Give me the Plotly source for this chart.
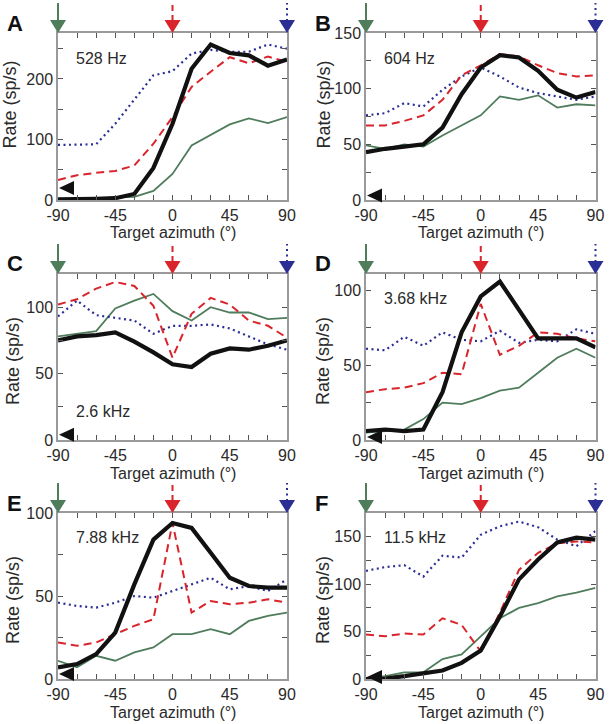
import plotly.graph_objects as go

# ---------------- data ----------------
azimuth = [-90, -75, -60, -45, -30, -15, 0, 15, 30, 45, 60, 75, 90]
x_tick_vals = [-90, -75, -60, -45, -30, -15, 0, 15, 30, 45, 60, 75, 90]
x_tick_text = ["-90", "", "", "-45", "", "", "0", "", "", "45", "", "", "90"]

panel_letters = ["A", "B", "C", "D", "E", "F"]
freq_labels = ["528 Hz", "604 Hz", "2.6 kHz", "3.68 kHz", "7.88 kHz", "11.5 kHz"]

A_black = [1, 1, 2, 3, 10, 53, 126, 217, 257, 243, 239, 222, 232]
A_red = [33, 41, 45, 48, 57, 93, 137, 187, 212, 236, 226, 237, 228]
A_blue = [91, 92, 92, 126, 165, 206, 213, 242, 248, 245, 245, 257, 250]
A_green = [1, 2, 2, 3, 5, 15, 43, 90, 108, 125, 135, 127, 137]

B_black = [43, 46, 48, 50, 65, 95, 119, 130, 128, 116, 99, 92, 97]
B_red = [67, 67, 71, 76, 90, 112, 121, 131, 129, 121, 114, 111, 112]
B_blue = [76, 78, 87, 84, 99, 111, 119, 111, 101, 96, 93, 90, 93]
B_green = [49, 46, 50, 48, 58, 67, 76, 93, 90, 94, 83, 86, 85]

C_black = [75, 78, 79, 81, 74, 66, 57, 55, 65, 69, 68, 71, 75]
C_red = [102, 106, 114, 119, 116, 101, 62, 95, 107, 102, 90, 86, 77]
C_blue = [93, 105, 94, 92, 90, 80, 86, 86, 87, 84, 78, 72, 68]
C_green = [78, 80, 82, 99, 105, 110, 97, 90, 100, 96, 96, 91, 92]

D_black = [6, 7, 6, 7, 32, 72, 96, 106, 87, 68, 68, 68, 62]
D_red = [32, 34, 35, 38, 45, 44, 91, 57, 63, 72, 71, 68, 66]
D_blue = [61, 60, 69, 63, 72, 67, 66, 73, 65, 67, 66, 74, 71]
D_green = [5, 6, 7, 14, 25, 24, 28, 33, 35, 45, 55, 61, 55]

E_black = [7, 9, 15, 28, 57, 84, 94, 91, 76, 61, 56, 55, 55]
E_red = [22, 20, 22, 27, 32, 36, 94, 40, 47, 45, 46, 48, 46]
E_blue = [46, 44, 43, 46, 50, 49, 53, 57, 61, 54, 56, 53, 60]
E_green = [11, 7, 14, 11, 16, 19, 27, 27, 30, 27, 35, 38, 40]

F_black = [0, 0.5, 3, 6, 9, 17, 30, 66, 105, 126, 144, 149, 147]
F_red = [47, 45, 48, 47, 64, 57, 29, 70, 115, 133, 143, 145, 144]
F_blue = [114, 118, 120, 108, 130, 128, 152, 161, 166, 160, 147, 140, 156]
F_green = [1, 3, 7, 7, 21, 26, 45, 64, 75, 80, 87, 91, 96]

spont_rates = [20, 4, 4, 2, 3, 2]

y_maxes = [276, 150, 125, 111, 100, 175]
y_tick_steps = [50, 25, 25, 25, 25, 25]
y_label_steps = [100, 50, 50, 50, 50, 50]

arrow_az = [-90, 0, 90]

# ---------------- styles ----------------
GREEN = "#4f7d5c"
RED = "#d9242b"
BLUE = "#2b2e95"
BLACK = "#111111"
TEXT = "#2a2a2a"
FRAME = "#9a9a9a"
FONT = "Liberation Sans, Arial, sans-serif"

arrow_colors = [GREEN, RED, BLUE]
arrow_dashes = ["solid", "6px,4px", "2px,3.5px"]

W, H = 610, 724
col_px = [(58, 287), (366, 595.5)]
row_px = [(33, 200), (274, 440), (513, 679)]

panel_series = [
    (A_green, A_blue, A_red, A_black),
    (B_green, B_blue, B_red, B_black),
    (C_green, C_blue, C_red, C_black),
    (D_green, D_blue, D_red, D_black),
    (E_green, E_blue, E_red, E_black),
    (F_green, F_blue, F_red, F_black),
]

fig = go.Figure()
shapes = []
annotations = []
layout_axes = {}

for i in range(6):
    r, c = divmod(i, 2)
    xl, xr = col_px[c]
    yt, yb = row_px[r]
    sfx = "" if i == 0 else str(i + 1)
    xa, ya = "x" + sfx, "y" + sfx
    green, blue, red, black = panel_series[i]

    fig.add_trace(go.Scatter(x=azimuth, y=green, mode="lines", xaxis=xa, yaxis=ya,
                             line=dict(color=GREEN, width=1.8), showlegend=False))
    fig.add_trace(go.Scatter(x=azimuth, y=blue, mode="lines", xaxis=xa, yaxis=ya,
                             line=dict(color=BLUE, width=2.2, dash="2px,3.5px"), showlegend=False))
    fig.add_trace(go.Scatter(x=azimuth, y=red, mode="lines", xaxis=xa, yaxis=ya,
                             line=dict(color=RED, width=2, dash="8px,5px"), showlegend=False))
    fig.add_trace(go.Scatter(x=azimuth, y=black, mode="lines", xaxis=xa, yaxis=ya,
                             line=dict(color=BLACK, width=4.2), showlegend=False))

    ymax = y_maxes[i]
    yvals = list(range(0, int(ymax) + 1, y_tick_steps[i]))
    ytext = [str(v) if v % y_label_steps[i] == 0 else "" for v in yvals]

    axis_common = dict(showline=True, linecolor=FRAME, linewidth=1.5, mirror="ticks",
                       ticks="inside", ticklen=5, tickwidth=1, tickcolor="#555",
                       showgrid=False, zeroline=False, automargin=False,
                       tickfont=dict(family=FONT, size=16, color=TEXT))
    layout_axes["xaxis" + sfx] = dict(axis_common, domain=[xl / W, xr / W], anchor=ya,
                                      range=[-90, 90], tickvals=x_tick_vals, ticktext=x_tick_text)
    layout_axes["yaxis" + sfx] = dict(axis_common, domain=[1 - yb / H, 1 - yt / H], anchor=xa,
                                      range=[0, ymax], tickvals=yvals, ticktext=ytext)

    xd, yd = xa + " domain", ya + " domain"
    # arrows above panel
    for az, col, dsh in zip(arrow_az, arrow_colors, arrow_dashes):
        fx = (az + 90) / 180
        shapes.append(dict(type="line", xref=xd, yref=yd, xsizemode="pixel", ysizemode="pixel",
                           xanchor=fx, yanchor=1, x0=0, x1=0, y0=12, y1=30,
                           line=dict(color=col, width=2, dash=dsh)))
        shapes.append(dict(type="path", xref=xd, yref=yd, xsizemode="pixel", ysizemode="pixel",
                           xanchor=fx, yanchor=1, path="M-8,13 L8,13 L0,0 Z",
                           fillcolor=col, line=dict(width=0)))
    # spontaneous rate marker
    shapes.append(dict(type="path", xref=xd, yref=yd, xsizemode="pixel", ysizemode="pixel",
                       xanchor=0, yanchor=spont_rates[i] / ymax, path="M1,0 L16,7 L16,-7 Z",
                       fillcolor=BLACK, line=dict(width=0)))

    # frequency label
    fy = 0.17 if i == 2 else 0.85
    annotations.append(dict(text=freq_labels[i], xref=xd, yref=yd, x=0.07, y=fy,
                            xanchor="left", yanchor="middle", showarrow=False,
                            font=dict(family=FONT, size=16, color=TEXT)))
    # panel letter
    annotations.append(dict(text="<b>" + panel_letters[i] + "</b>", xref="paper", yref="paper",
                            x=(xl - 53) / W, y=1 - (yt - 10) / H, xanchor="left", yanchor="middle",
                            showarrow=False, font=dict(family=FONT, size=22, color="#111")))
    # axis titles
    annotations.append(dict(text="Target azimuth (°)", xref="paper", yref="paper",
                            x=(xl + xr) / 2 / W, y=1 - (yb + 33) / H, xanchor="center",
                            yanchor="middle", showarrow=False,
                            font=dict(family=FONT, size=16, color=TEXT)))
    ytx = 9 if i == 0 else (13 if c == 0 else 323)
    ymid = (yt + yb) / 2 + (-12 if r == 0 else 4)
    annotations.append(dict(text="Rate (sp/s)", xref="paper", yref="paper",
                            x=ytx / W, y=1 - ymid / H, xanchor="center", yanchor="middle",
                            textangle=-90, showarrow=False,
                            font=dict(family=FONT, size=18, color=TEXT)))

fig.update_layout(width=W, height=H, margin=dict(l=0, r=0, t=0, b=0, autoexpand=False),
                  paper_bgcolor="white", plot_bgcolor="white",
                  shapes=shapes, annotations=annotations, **layout_axes)

fig.write_html(
    "out.html",
    config={"displayModeBar": False},
    post_script="document.body.style.margin='0';document.body.style.padding='0';"
                "document.body.style.overflow='hidden';",
)
